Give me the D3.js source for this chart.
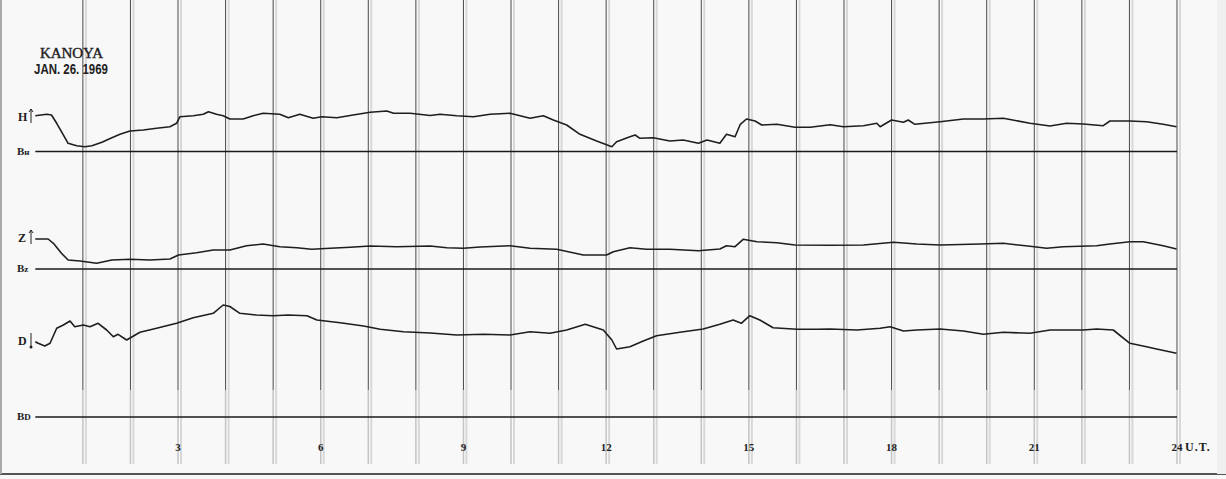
<!DOCTYPE html>
<meta charset="utf-8">
<style>
body { margin: 0; background: #fff; }
svg { display: block; }
.trace { fill: none; stroke: #1e1e1e; stroke-width: 1.6; stroke-linejoin: round; }
.base { stroke: #1a1a1a; stroke-width: 1.4; }
.lbl { font-family: "Liberation Serif", "DejaVu Serif", serif; font-weight: bold; fill: #222; }
</style>
<body></body>
<script src="https://d3js.org/d3.v7.min.js"></script>
<script>
// magnetogram, Kanoya, 26 Jan 1969 — values are trace height above each baseline (arbitrary units)
var station = "KANOYA";
var dateLabel = "JAN. 26. 1969";
var hourTicks = [3, 6, 9, 12, 15, 18, 21, 24];

var hHours = [0, 0.24, 0.34, 0.45, 0.55, 0.69, 0.87, 1.04, 1.19, 1.40, 1.61, 1.78, 1.99, 2.27, 2.55, 2.83, 2.97, 3.04, 3.32, 3.53, 3.64, 3.81, 3.95, 4.09, 4.37, 4.58, 4.79, 5.14, 5.32, 5.56, 5.84, 6.02, 6.34, 6.68, 7.04, 7.39, 7.53, 7.88, 8.30, 8.51, 8.86, 9.21, 9.56, 9.98, 10.40, 10.68, 10.89, 11.17, 11.45, 11.80, 12.12, 12.22, 12.50, 12.61, 12.71, 12.99, 13.34, 13.62, 13.94, 14.12, 14.39, 14.53, 14.71, 14.82, 14.95, 15.13, 15.27, 15.59, 15.97, 16.29, 16.71, 16.99, 17.41, 17.69, 17.76, 18.00, 18.25, 18.35, 18.49, 19.02, 19.51, 19.93, 20.35, 20.91, 21.33, 21.68, 22.03, 22.45, 22.59, 23.01, 23.36, 23.71, 23.99];
var hValues = [35.8, 37.2, 36.5, 28.2, 19.8, 8.2, 5.8, 4.8, 5.8, 9.2, 13.8, 17.2, 20.5, 21.5, 23.2, 24.8, 28.2, 34.8, 35.8, 37.2, 39.8, 37.2, 35.8, 32.5, 32.5, 35.8, 38.2, 37.2, 33.8, 37.2, 33.2, 34.8, 33.8, 36.5, 39.2, 40.5, 38.2, 38.2, 36, 37.2, 35.8, 34.8, 37.2, 38.2, 33.2, 35.8, 31.5, 26.5, 17.2, 10.5, 4.8, 9.8, 14.8, 16.5, 13.2, 13.8, 10.5, 11.5, 8.2, 11.5, 8.2, 17.2, 14.8, 27.2, 32.5, 30.5, 26.5, 27.2, 24.2, 24.2, 26.8, 24.8, 25.8, 28.2, 24.8, 31.5, 29.2, 31.5, 27.2, 29.8, 32.5, 32.5, 33.2, 28.2, 25.5, 28.2, 27.5, 25.8, 30.5, 30.5, 29.8, 27.2, 24.8];

var zHours = [0, 0.27, 0.38, 0.55, 0.69, 0.94, 1.29, 1.61, 1.99, 2.41, 2.83, 3.01, 3.39, 3.74, 4.09, 4.44, 4.79, 5.14, 5.50, 5.81, 6.20, 6.62, 7.04, 7.60, 8.30, 8.65, 9.00, 9.35, 9.98, 10.40, 10.96, 11.52, 12.01, 12.15, 12.50, 12.85, 13.34, 13.94, 14.39, 14.53, 14.71, 14.88, 15.17, 15.59, 15.97, 16.71, 17.41, 18.04, 18.53, 19.02, 19.86, 20.35, 20.91, 21.26, 21.61, 22.31, 22.59, 23.01, 23.29, 23.71, 23.99];
var zValues = [30, 30, 25.7, 15.7, 9, 8, 5.7, 9, 9.7, 9, 10, 14, 16.3, 19, 19, 23.3, 25, 22.3, 21.3, 19.7, 20.7, 21.7, 23, 22.3, 23, 21.3, 20.7, 22, 23.3, 20.7, 19.7, 14, 14, 17.3, 21.3, 19.7, 19.7, 18.3, 20, 23.3, 22.3, 29.7, 27.3, 26.3, 24, 23.7, 24, 26.7, 25, 24, 25, 25.7, 22.7, 20.7, 22.3, 23.3, 25, 27.3, 27.3, 23.3, 20];

var dHours = [0, 0.06, 0.20, 0.31, 0.45, 0.59, 0.73, 0.83, 1.01, 1.15, 1.32, 1.50, 1.64, 1.74, 1.92, 2.20, 2.55, 2.97, 3.32, 3.74, 3.95, 4.09, 4.30, 4.65, 5.00, 5.32, 5.71, 5.92, 6.41, 6.90, 7.25, 7.74, 8.30, 8.86, 9.42, 9.98, 10.40, 10.82, 11.17, 11.56, 11.94, 12.12, 12.22, 12.50, 12.78, 13.06, 13.55, 14.04, 14.39, 14.67, 14.84, 15.02, 15.23, 15.51, 16.01, 16.43, 16.71, 17.27, 17.76, 17.97, 18.25, 18.53, 19.02, 19.51, 19.93, 20.35, 20.91, 21.33, 21.61, 22.03, 22.31, 22.66, 23.01, 23.36, 23.57, 23.99];
var dValues = [75.3, 73.7, 71, 73.7, 88.7, 92, 96, 90.3, 92, 90.3, 93.7, 87, 80.3, 82.7, 77, 84.7, 88.7, 93.7, 99.3, 103.7, 112, 110.5, 103.7, 102, 101.3, 102, 101.3, 97, 94.3, 91, 87.7, 85.3, 84, 82, 82.7, 82, 85.3, 83.7, 87, 92.7, 87, 77, 68, 70.3, 76, 81.3, 84.7, 88, 92.7, 97, 93.7, 101.3, 97, 89.3, 87.7, 87.7, 88, 87, 88.7, 90.3, 86, 87, 88, 86, 82.7, 84.7, 83.7, 87, 87, 87, 88, 87, 73.7, 70.3, 68, 63.7];

var W = 1226, H = 479;
var svg = d3.select("body").append("svg").attr("width", W).attr("height", H);

// paper
svg.append("rect").attr("width", W).attr("height", H).attr("fill", "#f8f8f8");
svg.append("line").attr("x1", 0).attr("x2", W).attr("y1", 474).attr("y2", 474).attr("stroke", "#555").attr("stroke-width", 2);
svg.append("line").attr("x1", 1).attr("x2", 1).attr("y1", 0).attr("y2", 474).attr("stroke", "#aaa").attr("stroke-width", 2);
svg.append("rect").attr("x", 1217).attr("y", 0).attr("width", 9).attr("height", 474).attr("fill", "#efefef");

var x = d3.scaleLinear().domain([0, 24]).range([35.3, 1177]);

// hour lines: a dark rule with a faint companion just right of it
var hours = d3.range(1, 25);
var grid = svg.append("g");
grid.selectAll(".ghost").data(hours).enter().append("line")
    .attr("x1", function(d) { return x(d) + 3; }).attr("x2", function(d) { return x(d) + 3; })
    .attr("y1", 0).attr("y2", 464)
    .attr("stroke", "#d8d8d8").attr("stroke-width", 2);
grid.selectAll(".rule").data(hours).enter().append("line")
    .attr("x1", function(d) { return x(d); }).attr("x2", function(d) { return x(d); })
    .attr("y1", 0).attr("y2", 390)
    .attr("stroke", "#4a4a4a").attr("stroke-width", 1);
grid.selectAll(".rule2").data(hours).enter().append("line")
    .attr("x1", function(d) { return x(d); }).attr("x2", function(d) { return x(d); })
    .attr("y1", 390).attr("y2", 464)
    .attr("stroke", "#c4c4c4").attr("stroke-width", 1.5);

var panels = [
  {name: "H", sub: "н", base: 151.5, hours: hHours, values: hValues, arrow: "up", ly: 121},
  {name: "Z", sub: "z", base: 269, hours: zHours, values: zValues, arrow: "up", ly: 242},
  {name: "D", sub: "D", base: 417, hours: dHours, values: dValues, arrow: "down", ly: 345}
];

panels.forEach(function(p) {
  var y = d3.scaleLinear().domain([0, 100]).range([p.base, p.base - 100]);
  var pts = p.hours.map(function(h, i) { return [h, p.values[i]]; });

  svg.append("line").attr("class", "base")
      .attr("x1", x(0)).attr("x2", x(24))
      .attr("y1", y(0)).attr("y2", y(0));

  svg.append("path").datum(pts).attr("class", "trace")
      .attr("d", d3.line().x(function(d) { return x(d[0]); }).y(function(d) { return y(d[1]); }));

  // component letter and scale direction mark
  svg.append("text").attr("class", "lbl").attr("x", 18).attr("y", p.ly)
      .attr("font-size", 12).text(p.name);
  var ay0 = p.ly - 12, ay1 = p.ly + 2;
  svg.append("line").attr("x1", 31).attr("x2", 31).attr("y1", ay0).attr("y2", ay1)
      .attr("stroke", "#222").attr("stroke-width", 1);
  if (p.arrow === "up") {
    svg.append("path").attr("d", "M29," + (ay0 + 3) + "L31," + ay0 + "L33," + (ay0 + 3))
        .attr("fill", "none").attr("stroke", "#222").attr("stroke-width", 1);
  } else {
    svg.append("circle").attr("cx", 31).attr("cy", ay1).attr("r", 1.5).attr("fill", "#222");
  }

  var b = svg.append("text").attr("class", "lbl").attr("x", 17).attr("y", y(0) + 3).attr("font-size", 11);
  b.append("tspan").text("B");
  b.append("tspan").attr("font-size", 9).text(p.sub);
});

// time axis labels
svg.append("g").selectAll("text").data(hourTicks).enter().append("text")
    .attr("class", "lbl").attr("font-size", 11).attr("text-anchor", "middle")
    .attr("x", function(d) { return x(d); }).attr("y", 451)
    .text(function(d) { return d; });
svg.append("text").attr("class", "lbl").attr("font-size", 12)
    .attr("x", x(24) + 8).attr("y", 451).attr("letter-spacing", 1).text("U.T.");

// station stamp
svg.append("text").attr("x", 40).attr("y", 58)
    .attr("font-family", "Liberation Serif, serif").attr("font-size", 15)
    .attr("textLength", 63).attr("lengthAdjust", "spacing")
    .attr("stroke", "#222").attr("stroke-width", 0.4)
    .attr("fill", "#222").text(station);
svg.append("text").attr("x", 34).attr("y", 74)
    .attr("font-family", "Liberation Sans Narrow, Liberation Sans, sans-serif").attr("font-size", 14)
    .attr("font-weight", "bold")
    .attr("textLength", 74).attr("lengthAdjust", "spacingAndGlyphs")
    .attr("fill", "#222").text(dateLabel);
</script>
